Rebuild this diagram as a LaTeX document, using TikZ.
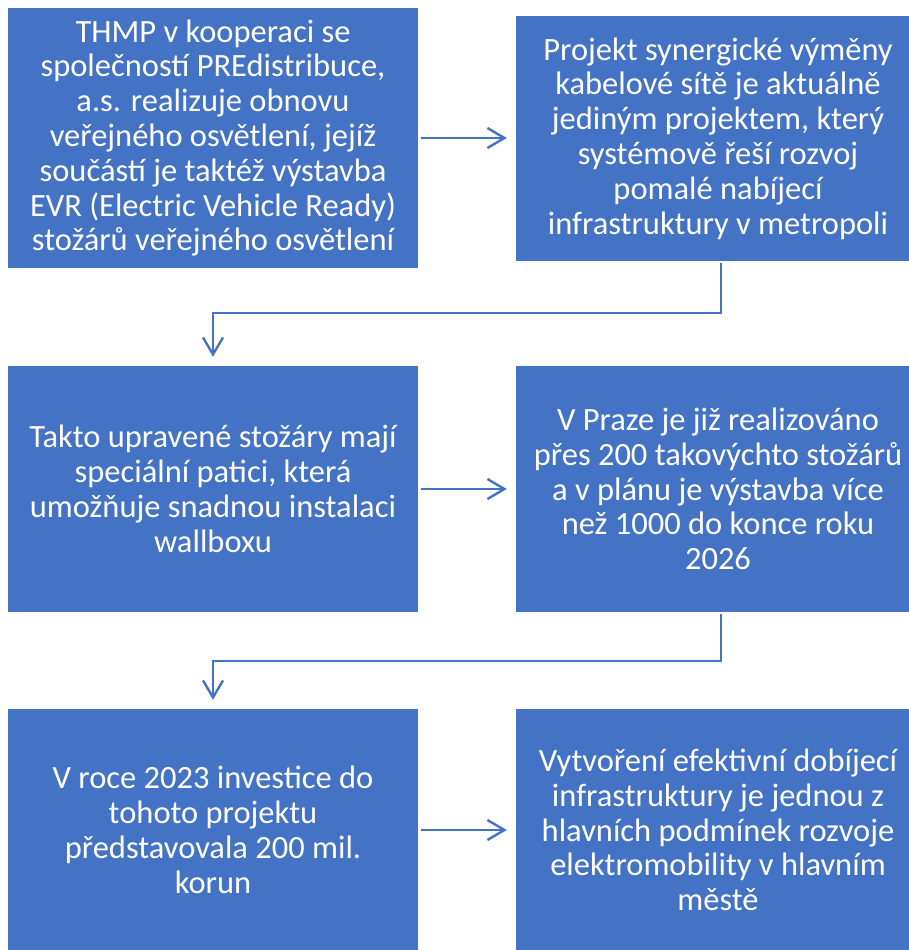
\documentclass[tikz,border=0pt]{standalone}
\usepackage{fontspec}
\setmainfont{Carlito}
\usetikzlibrary{arrows.meta}
\definecolor{obl}{RGB}{68,114,196}
\begin{document}
\begin{tikzpicture}[x=1pt,y=-1pt,
  box/.style={fill=obl,draw=none,text=white,align=center,inner sep=0pt,
    font=\fontsize{32.5}{34.8}\selectfont},
  arr/.style={draw=obl,line width=2.4pt,-{Straight Barb[length=17pt,width=20pt]}}]
\useasboundingbox (0,0) rectangle (908,950);
\fill[white] (0,0) rectangle (908,950);
\node[box,minimum width=410pt,minimum height=260pt] (b1) at (213,138) {THMP v kooperaci se\\společností PREdistribuce,\\a.s. realizuje obnovu\\veřejného osvětlení, jejíž\\součástí je taktéž výstavba\\EVR (Electric Vehicle Ready)\\stožárů veřejného osvětlení};
\node[box,minimum width=404pt,minimum height=245pt] (b2) at (718,138.5) {Projekt synergické výměny\\kabelové sítě je aktuálně\\jediným projektem, který\\systémově řeší rozvoj\\pomalé nabíjecí\\infrastruktury v metropoli};
\node[box,minimum width=410pt,minimum height=246pt] (b3) at (213,489) {Takto upravené stožáry mají\\speciální patici, která\\umožňuje snadnou instalaci\\wallboxu};
\node[box,minimum width=404pt,minimum height=246pt] (b4) at (718,489) {V Praze je již realizováno\\přes 200 takovýchto stožárů\\a v plánu je výstavba více\\než 1000 do konce roku\\2026};
\node[box,minimum width=410pt,minimum height=242pt] (b5) at (213,830) {V roce 2023 investice do\\tohoto projektu\\představovala 200 mil.\\korun};
\node[box,minimum width=404pt,minimum height=242pt] (b6) at (718,830) {Vytvoření efektivní dobíjecí\\infrastruktury je jednou z\\hlavních podmínek rozvoje\\elektromobility v hlavním\\městě};
\coordinate (e1) at (0,313);
\coordinate (e2) at (0,661);
\draw[arr,shorten <=3pt,shorten >=9pt] (b1) -- (b1 -| b2.west);
\draw[arr,shorten <=3pt,shorten >=9pt] (b3) -- (b3 -| b4.west);
\draw[arr,shorten <=3pt,shorten >=9pt] (b5.east) -- (b5 -| b6.west);
\draw[arr,shorten <=2pt,shorten >=9pt] ([xshift=3pt]b2.south) -- ([xshift=3pt]b2.south |- e1) -| (b3.north);
\draw[arr,shorten <=2pt,shorten >=9pt] ([xshift=3pt]b4.south) -- ([xshift=3pt]b4.south |- e2) -| (b5.north);
\end{tikzpicture}
\end{document}
